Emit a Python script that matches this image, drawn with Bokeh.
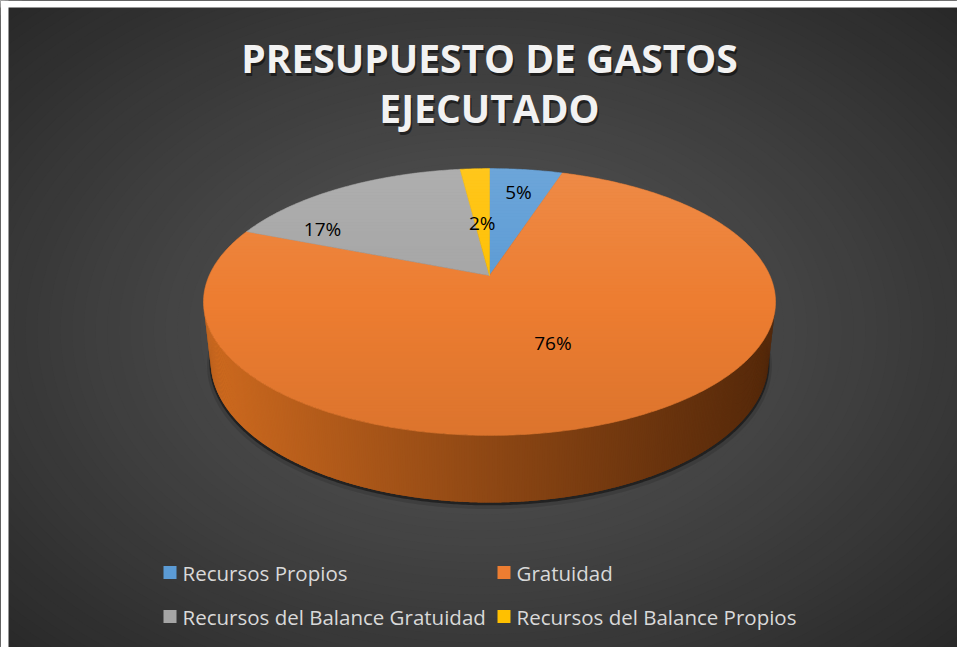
import numpy as np
from bokeh.plotting import figure
from bokeh.models import Range1d
from bokeh.core.properties import value
from bokeh.embed import file_html
from bokeh.resources import INLINE

# ---------------- data ----------------
categories = ["Recursos Propios", "Gratuidad",
              "Recursos del Balance Gratuidad", "Recursos del Balance Propios"]
percentages = [5, 76, 17, 2]
pct_labels = ["5%", "76%", "17%", "2%"]
slice_colors = ["#5B9BD5", "#ED7D31", "#A5A5A5", "#FFC000"]
title_lines = ["PRESUPUESTO DE GASTOS", "EJECUTADO"]

# label placement (radius fraction, angular shift in degrees)
label_radius = [0.76, 0.52, 0.75, 0.45]
label_shift = [0.0, 2.0, -21.0, 0.0]

W, H = 957, 647
p = figure(width=W, height=H, x_range=Range1d(0, W), y_range=Range1d(H, 0),
           output_backend="svg", toolbar_location=None, min_border=0,
           x_axis_type=None, y_axis_type=None)
p.grid.visible = False
p.outline_line_color = None
p.background_fill_color = "white"
p.border_fill_color = "white"


def lerp_col(c0, c1, t):
    t = min(max(t, 0.0), 1.0)
    r = [int(round(a + (b - a) * t)) for a, b in zip(c0, c1)]
    return "#%02x%02x%02x" % tuple(r)


# ---------------- background (radial gradient) ----------------
bx, by = 480.0, 330.0
ang = np.linspace(0, 2 * np.pi, 121)
bg_xs, bg_ys, bg_cols = [], [], []
nbg = 60
for k in range(nbg, 0, -1):
    f = k / nbg
    rx, ry = 700 * f, 480 * f
    bg_xs.append(list(bx + rx * np.cos(ang)))
    bg_ys.append(list(by + ry * np.sin(ang)))
    bg_cols.append(lerp_col((86, 86, 86), (38, 38, 38), f ** 1.2))
p.patches(bg_xs, bg_ys, fill_color=bg_cols, line_color=None)
# white page margin
p.quad(left=[0, 0], right=[8, W], bottom=[H, 7], top=[0, 0],
       fill_color="white", line_color=None)

# ---------------- 3D pie geometry ----------------
cx, cy = 489.0, 275.0
alpha = np.radians(27.2)
s, c = np.sin(alpha), np.cos(alpha)
Dcam, F, T = 4.481, 1256.0, 0.238


def proj(theta, r=1.0, h=0.0):
    X = r * np.sin(theta)
    Z = r * np.cos(theta)
    d = Dcam + Z * c - h * s
    return cx + X * F / d, cy - (h * c + Z * s) * F / d


full = np.linspace(0, 2 * np.pi, 721)

# shadow under the pie
for grow, dy, a in [(1.012, 4, 0.12), (1.004, 2, 0.45)]:
    sx, sy = proj(full, grow, -T)
    p.patch(list(sx), list(sy + dy), fill_color="black", fill_alpha=a, line_color=None)

# side wall (front-facing part)
th_lim = np.arccos(-1.0 / (Dcam * c))
nside = 360
side_th = np.linspace(th_lim, 2 * np.pi - th_lim, nside + 1)
step = side_th[1] - side_th[0]
bx0, _ = proj(2 * np.pi - th_lim)
bx1, _ = proj(th_lim)
side_xs, side_ys, side_cols = [], [], []
for i in range(nside):
    t0 = side_th[i]
    t1 = min(side_th[i] + 2.0 * step, side_th[-1])
    tt_ = np.linspace(t0, t1, 4)
    xt, yt = proj(tt_)
    xb, yb = proj(tt_[::-1], 1.0, -T)
    side_xs.append(list(xt) + list(xb))
    side_ys.append(list(yt) + list(yb))
    xm, _ = proj(side_th[i] + 0.5 * step)
    tt = (bx1 - xm) / (bx1 - bx0)
    side_cols.append(lerp_col((86, 41, 10), (206, 106, 31), tt ** 1.1))
p.patches(side_xs, side_ys, fill_color=side_cols, line_color=None)

# top face slices
bounds = np.concatenate([[0.0], np.cumsum(percentages)]) / sum(percentages) * 2 * np.pi
sl_xs, sl_ys = [], []
for i in range(len(percentages)):
    th = np.linspace(bounds[i], bounds[i + 1], max(6, int(percentages[i] * 6)))
    ax, ay = proj(th)
    sl_xs.append([cx] + list(ax))
    sl_ys.append([cy] + list(ay))
p.patches(sl_xs, sl_ys, fill_color=slice_colors, line_color=slice_colors, line_width=0.6)

# vertical shading overlay on the top face
ox, oy = proj(full)
outline = list(zip(ox, oy))


def clip_poly(pts, y0, keep_ge):
    out = []
    n = len(pts)
    for i in range(n):
        (x1, y1), (x2, y2) = pts[i], pts[(i + 1) % n]
        in1 = y1 >= y0 if keep_ge else y1 <= y0
        in2 = y2 >= y0 if keep_ge else y2 <= y0
        if in1:
            out.append((x1, y1))
        if in1 != in2:
            t = (y0 - y1) / (y2 - y1)
            out.append((x1 + t * (x2 - x1), y0))
    return out


ytop, ybot = float(np.floor(oy.min())), float(np.ceil(oy.max()))
ov_xs, ov_ys, ov_cols, ov_alpha = [], [], [], []
yy = ytop
while yy < ybot:
    band = clip_poly(clip_poly(outline, yy, True), yy + 3, False)
    if len(band) >= 3:
        f = (yy + 1.5 - ytop) / (ybot - ytop)
        if f < 0.5:
            ov_cols.append("white")
            ov_alpha.append(0.11 * (0.5 - f) / 0.5)
        else:
            ov_cols.append("black")
            ov_alpha.append(0.07 * (f - 0.5) / 0.5)
        ov_xs.append([q[0] for q in band])
        ov_ys.append([q[1] for q in band])
    yy += 3
p.patches(ov_xs, ov_ys, fill_color=ov_cols, fill_alpha=ov_alpha, line_color=None)

# percentage labels
lx, ly = [], []
for i in range(len(percentages)):
    mid = 0.5 * (bounds[i] + bounds[i + 1]) + np.radians(label_shift[i])
    x, y = proj(mid, label_radius[i])
    lx.append(float(x))
    ly.append(float(y))
p.text(x=lx, y=ly, text=pct_labels, text_align="center", text_baseline="middle",
       text_font=value("Open Sans"), text_font_size="19px", text_color="black")

# ---------------- title ----------------
tx = [489.0, 489.0]
ty = [57.0, 107.0]
p.text(x=[v + 1.5 for v in tx], y=[v + 2.5 for v in ty], text=title_lines,
       text_align="center", text_baseline="middle", text_font=value("Open Sans"),
       text_font_style="bold", text_font_size="39px", text_color="black", text_alpha=0.5)
p.text(x=tx, y=ty, text=title_lines, text_align="center", text_baseline="middle",
       text_font=value("Open Sans"), text_font_style="bold", text_font_size="39px",
       text_color="#f2f2f2")

# ---------------- legend ----------------
leg_col_x = [163.0, 497.0]
leg_row_y = [572.0, 616.0]
lgx = [leg_col_x[i % 2] + 6.5 for i in range(len(categories))]
lgy = [leg_row_y[i // 2] for i in range(len(categories))]
p.rect(x=lgx, y=lgy, width=13, height=13, fill_color=slice_colors, line_color=None)
p.text(x=[v + 12.5 for v in lgx], y=lgy, text=categories, text_align="left",
       text_baseline="middle", text_font=value("Open Sans"), text_font_size="20.5px",
       text_color="#d9d9d9")

open("out.html", "w").write(file_html(p, INLINE))
